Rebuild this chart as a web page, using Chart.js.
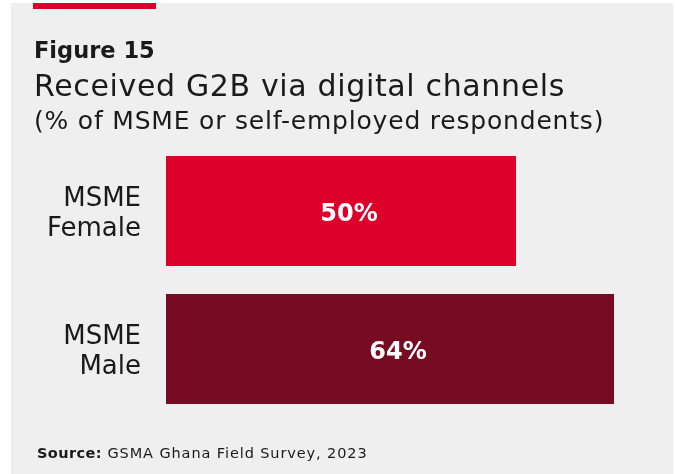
<!DOCTYPE html>
<html>
<head>
<meta charset="utf-8">
<script src="https://cdn.jsdelivr.net/npm/chart.js@4.4.1/dist/chart.umd.min.js"></script>
<style>
  html, body { margin: 0; padding: 0; background: #ffffff; }
  canvas { display: block; }
</style>
</head>
<body>
<canvas id="chart" width="675" height="474"></canvas>
<script>
// Survey categories (multi-line axis labels) and their shares in percent
const categories = [['MSME', 'Female'], ['MSME', 'Male']];
const shares = [50, 64];
const barColors = ['#dc002b', '#760b22'];

const figureLabel = 'Figure 15';
const titleText = 'Received G2B via digital channels';
const subtitleText = '(% of MSME or self-employed respondents)';
const sourceLead = 'Source:';
const sourceText = ' GSMA Ghana Field Survey, 2023';

const FONT = '"DejaVu Sans", "Open Sans", sans-serif';
const PANEL = '#efefef';
const ACCENT = '#dc002b';
const INK = '#1a1a1a';

// Grey card, red accent strip and the heading / source text
const framePlugin = {
  id: 'frame',
  beforeDraw(chart) {
    const ctx = chart.ctx;
    ctx.save();
    ctx.fillStyle = '#ffffff';
    ctx.fillRect(0, 0, chart.width, chart.height);
    ctx.fillStyle = PANEL;
    ctx.fillRect(11, 3, 662, chart.height - 3);
    ctx.fillStyle = ACCENT;
    ctx.fillRect(33, 3, 123, 6);
    ctx.restore();
  },
  afterDraw(chart) {
    const ctx = chart.ctx;
    ctx.save();
    ctx.fillStyle = INK;
    ctx.textAlign = 'left';
    ctx.textBaseline = 'alphabetic';
    ctx.font = `bold 22.5px ${FONT}`;
    ctx.fillText(figureLabel, 34, 58);

    ctx.letterSpacing = '0.65px';
    ctx.font = `30px ${FONT}`;
    ctx.fillText(titleText, 34, 96);
    ctx.letterSpacing = '0.8px';
    ctx.font = `25px ${FONT}`;
    ctx.fillText(subtitleText, 34, 129);

    ctx.letterSpacing = '0.4px';
    ctx.font = `bold 14.5px ${FONT}`;
    ctx.fillText(sourceLead, 37, 458);
    const w = ctx.measureText(sourceLead).width;
    ctx.letterSpacing = '0.9px';
    ctx.font = `14.5px ${FONT}`;
    ctx.fillText(sourceText, 37 + w, 458);
    ctx.restore();
  }
};

// White value labels centred in each bar
const valueLabels = {
  id: 'valueLabels',
  afterDatasetsDraw(chart) {
    const ctx = chart.ctx;
    const meta = chart.getDatasetMeta(0);
    ctx.save();
    ctx.fillStyle = '#ffffff';
    ctx.font = `bold 24px ${FONT}`;
    ctx.textAlign = 'center';
    ctx.textBaseline = 'middle';
    meta.data.forEach((bar, i) => {
      const cx = (bar.base + bar.x) / 2 + 8;
      ctx.fillText(shares[i] + '%', cx, bar.y + 4);
    });
    ctx.restore();
  }
};

new Chart(document.getElementById('chart'), {
  type: 'bar',
  data: {
    labels: categories,
    datasets: [{
      data: shares,
      backgroundColor: barColors,
      borderWidth: 0,
      barPercentage: 0.797,
      categoryPercentage: 1
    }]
  },
  options: {
    indexAxis: 'y',
    responsive: false,
    animation: false,
    devicePixelRatio: 1,
    layout: { padding: { top: 142, bottom: 56, left: 0, right: 19 } },
    plugins: {
      legend: { display: false },
      tooltip: { enabled: false }
    },
    scales: {
      x: { display: false, min: 0, max: 70 },
      y: {
        grid: { display: false, drawTicks: false },
        border: { display: false },
        ticks: {
          color: INK,
          padding: 25,
          labelOffset: 3,
          font: { family: FONT, size: 26, lineHeight: 1.14 }
        },
        afterFit(scale) { scale.width = 166; }
      }
    }
  },
  plugins: [framePlugin, valueLabels]
});
</script>
</body>
</html>
